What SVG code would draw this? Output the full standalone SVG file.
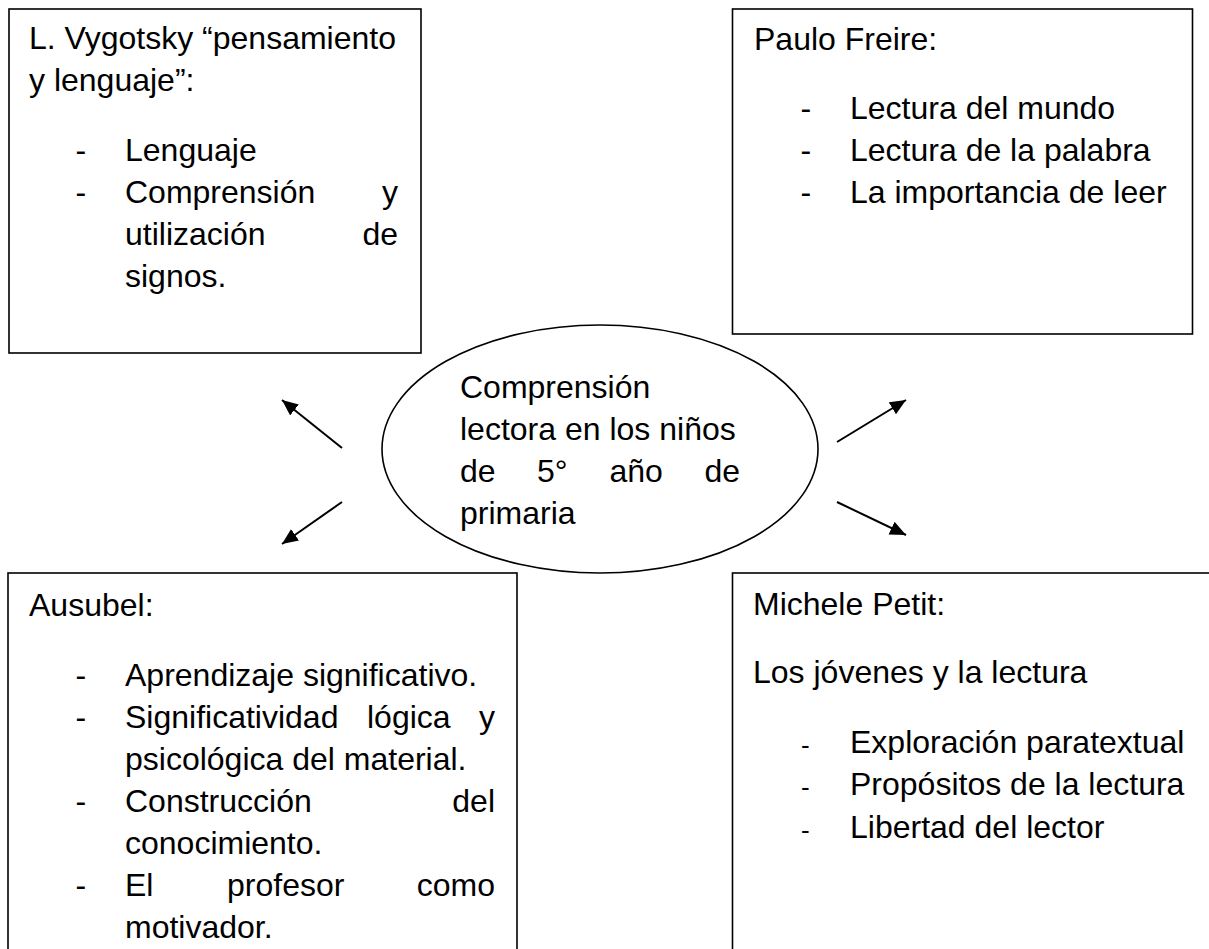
<svg xmlns="http://www.w3.org/2000/svg" width="1209" height="949" viewBox="0 0 1209 949">
<style>
.box{fill:#fff;stroke:#000;stroke-width:1.6}
.t{font-family:"Liberation Sans",Arial,sans-serif;font-size:32px;fill:#000}
.e{text-anchor:end}
.d{font-family:"Liberation Sans",Arial,sans-serif;font-size:26px;fill:#000}
.c{stroke:#000;stroke-width:2;fill:none}
</style>
<defs>
<marker id="ah" markerUnits="userSpaceOnUse" markerWidth="20" markerHeight="16" refX="16" refY="7" orient="auto">
<path d="M0,0 L16,7 L0,14 Z" fill="#000"/>
</marker>
</defs>
<rect width="1209" height="949" fill="#fff"/>

<g id="node-vygotsky">
<rect class="box" x="9" y="9" width="412" height="344"/>
<text class="t" x="29" y="49">L. Vygotsky “pensamiento</text>
<text class="t" x="29" y="91">y lenguaje”:</text>
<text class="t" x="75.5" y="161">-</text>
<text class="t" x="125" y="161">Lenguaje</text>
<text class="t" x="75.5" y="203">-</text>
<text class="t" x="125" y="203">Comprensión</text>
<text class="t e" x="398" y="203">y</text>
<text class="t" x="125" y="245">utilización</text>
<text class="t e" x="398" y="245">de</text>
<text class="t" x="125" y="287">signos.</text>
</g>

<g id="node-freire">
<rect class="box" x="732.5" y="9" width="460" height="325"/>
<text class="t" x="754" y="50">Paulo Freire:</text>
<text class="t" x="800.5" y="119">-</text>
<text class="t" x="850" y="119">Lectura del mundo</text>
<text class="t" x="800.5" y="161">-</text>
<text class="t" x="850" y="161">Lectura de la palabra</text>
<text class="t" x="800.5" y="203">-</text>
<text class="t" x="850" y="203">La importancia de leer</text>
</g>

<g id="node-center">
<ellipse class="box" cx="600" cy="449" rx="218" ry="124"/>
<text class="t" x="460" y="398">Comprensión</text>
<text class="t" x="460" y="440">lectora en los niños</text>
<text class="t" x="460" y="482">de</text>
<text class="t" x="537" y="482">5°</text>
<text class="t" x="609.5" y="482">año</text>
<text class="t e" x="740" y="482">de</text>
<text class="t" x="460" y="524">primaria</text>
</g>

<g id="node-ausubel">
<rect class="box" x="8" y="573" width="509" height="420"/>
<text class="t" x="29" y="616">Ausubel:</text>
<text class="t" x="75.5" y="686">-</text>
<text class="t" x="125" y="686">Aprendizaje significativo.</text>
<text class="t" x="75.5" y="728">-</text>
<text class="t" x="125" y="728">Significatividad</text>
<text class="t" x="367" y="728">lógica</text>
<text class="t e" x="495" y="728">y</text>
<text class="t" x="125" y="770">psicológica del material.</text>
<text class="t" x="75.5" y="812">-</text>
<text class="t" x="125" y="812">Construcción</text>
<text class="t e" x="495" y="812">del</text>
<text class="t" x="125" y="854">conocimiento.</text>
<text class="t" x="75.5" y="896">-</text>
<text class="t" x="125" y="896">El</text>
<text class="t" x="227" y="896">profesor</text>
<text class="t e" x="495" y="896">como</text>
<text class="t" x="125" y="938">motivador.</text>
</g>

<g id="node-petit">
<rect class="box" x="732.5" y="573" width="520" height="420"/>
<text class="t" x="753" y="615">Michele Petit:</text>
<text class="t" x="753" y="683">Los jóvenes y la lectura</text>
<text class="d" x="801" y="754">-</text>
<text class="t" x="850" y="753">Exploración paratextual</text>
<text class="d" x="801" y="796">-</text>
<text class="t" x="850" y="795">Propósitos de la lectura</text>
<text class="d" x="801" y="839">-</text>
<text class="t" x="850" y="838">Libertad del lector</text>
</g>

<g id="connectors">
<line class="c" x1="342" y1="448" x2="282" y2="400" marker-end="url(#ah)"/>
<line class="c" x1="342" y1="502" x2="282" y2="544" marker-end="url(#ah)"/>
<line class="c" x1="837" y1="442" x2="906" y2="400" marker-end="url(#ah)"/>
<line class="c" x1="837" y1="502" x2="906" y2="535" marker-end="url(#ah)"/>
</g>
</svg>
